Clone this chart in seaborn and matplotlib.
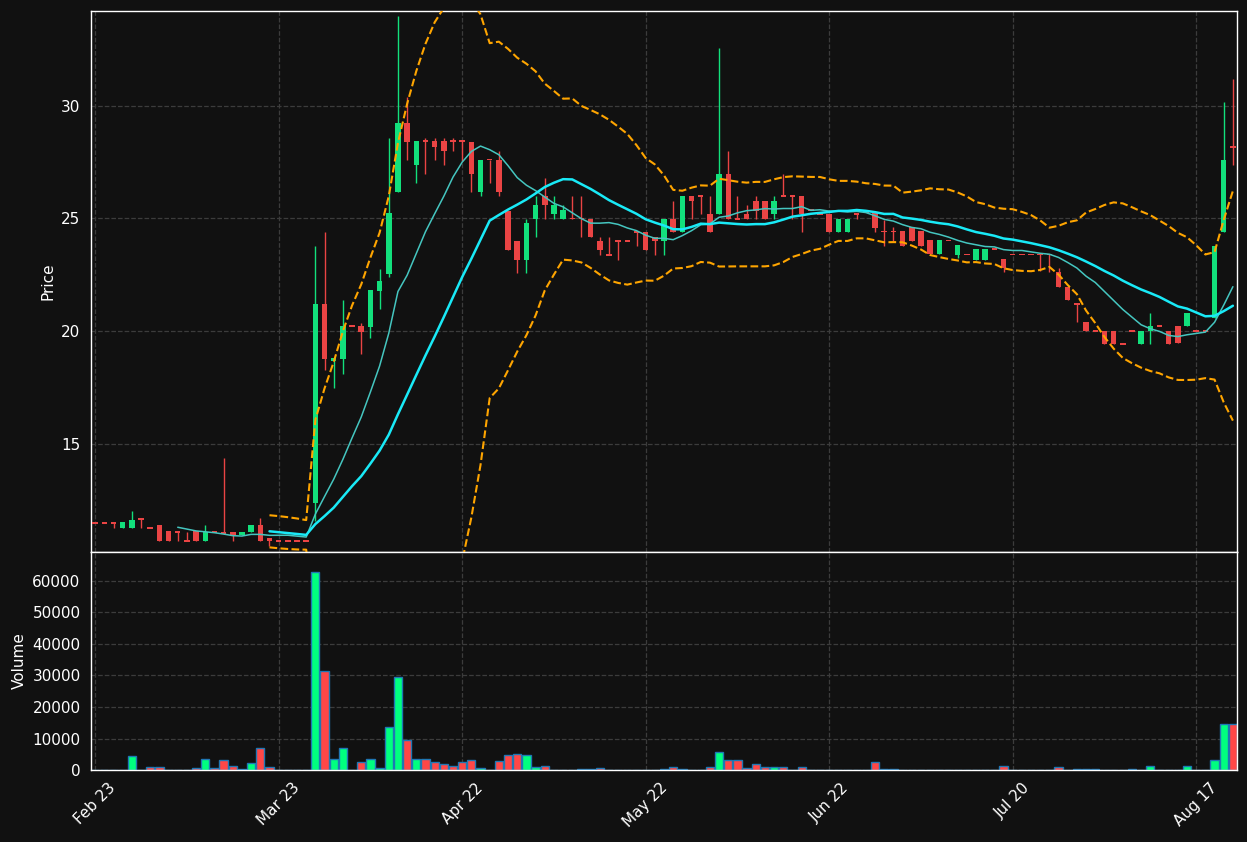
"""
Candlestick chart with SMA(10), SMA(20), Bollinger bands and a volume panel.
"""

import matplotlib
matplotlib.use("Agg")
import matplotlib.pyplot as plt
import numpy as np
import pandas as pd
import seaborn as sns

# ---- data ----
DATE_LABELS = ["Feb 23", "Mar 23", "Apr 22", "May 22", "Jun 22", "Jul 20", "Aug 17"]
TICK_STEP = 20

OPEN = [11.49, 11.49, 11.49, 11.25, 11.25, 11.69, 11.27, 11.42, 11.11, 11.10,
        10.68, 11.11, 10.68, 11.10, 11.10, 11.10, 10.97, 11.07, 11.42, 10.80,
        10.70, 10.70, 10.70, 10.70, 12.37, 21.18, 18.68, 18.76, 20.21, 20.21,
        20.18, 21.77, 22.55, 26.18, 29.22, 27.37, 28.43, 28.43, 28.43, 28.43,
        28.43, 28.39, 26.16, 27.61, 27.61, 25.34, 24.01, 23.14, 24.97, 25.98,
        25.18, 24.97, 24.99, 24.99, 24.99, 24.01, 23.39, 24.01, 24.01, 24.41,
        24.41, 24.18, 24.00, 24.99, 24.38, 26.00, 26.00, 25.21, 25.20, 26.98,
        24.97, 25.20, 25.79, 25.79, 25.20, 26.00, 26.00, 26.00, 25.36, 25.21,
        25.21, 24.38, 24.38, 25.21, 25.27, 25.27, 24.42, 24.42, 24.42, 24.60,
        24.42, 24.02, 23.40, 24.02, 23.37, 23.40, 23.17, 23.17, 23.63, 23.20,
        23.40, 23.40, 23.40, 23.40, 23.40, 22.61, 21.97, 21.19, 20.40, 20.00,
        20.00, 20.00, 19.41, 20.00, 19.41, 20.00, 20.22, 20.00, 20.22, 20.22,
        20.00, 20.00, 20.60, 24.40, 28.17]
HIGH = [11.49, 11.49, 11.49, 11.51, 12.00, 11.69, 11.27, 11.42, 11.11, 11.10,
        11.10, 11.11, 11.41, 11.10, 14.37, 11.10, 11.10, 11.42, 11.69, 10.80,
        10.70, 10.70, 10.70, 10.70, 23.79, 24.40, 18.80, 21.39, 20.21, 20.37,
        21.80, 22.77, 28.58, 33.99, 30.38, 28.43, 28.58, 28.58, 28.58, 28.58,
        28.45, 28.39, 27.61, 27.61, 28.00, 25.34, 24.01, 24.99, 25.98, 26.79,
        25.98, 25.60, 25.98, 25.98, 24.99, 24.18, 24.18, 24.01, 24.01, 24.41,
        24.41, 24.18, 24.99, 25.76, 26.00, 26.00, 26.00, 26.00, 32.56, 28.00,
        26.00, 25.60, 26.00, 25.79, 26.00, 26.98, 26.00, 26.00, 25.36, 25.21,
        25.21, 24.97, 24.97, 25.21, 25.27, 25.27, 24.94, 24.60, 24.42, 24.60,
        24.42, 24.02, 24.02, 24.02, 23.82, 23.40, 23.64, 23.64, 23.63, 23.20,
        23.40, 23.40, 23.40, 23.40, 23.40, 22.78, 21.97, 21.19, 20.40, 20.00,
        20.00, 20.00, 19.41, 20.00, 20.00, 20.80, 20.22, 20.00, 20.22, 20.80,
        20.00, 20.00, 23.78, 30.15, 31.18]
LOW = [11.49, 11.49, 11.27, 11.25, 11.25, 11.27, 11.27, 10.68, 10.68, 10.68,
       10.68, 10.68, 10.68, 11.10, 11.00, 10.70, 10.97, 11.07, 10.68, 10.45,
       10.70, 10.70, 10.70, 10.70, 11.57, 18.29, 17.46, 18.10, 20.21, 18.99,
       19.71, 21.00, 22.39, 26.18, 27.60, 26.59, 26.97, 27.60, 27.37, 28.00,
       27.55, 26.17, 25.98, 26.57, 25.98, 23.58, 22.58, 22.58, 24.18, 24.99,
       24.99, 24.97, 24.99, 24.18, 24.18, 23.36, 23.39, 23.14, 24.01, 23.76,
       23.58, 23.36, 23.36, 24.38, 24.38, 24.99, 25.20, 24.38, 25.20, 24.97,
       24.97, 24.97, 24.97, 24.97, 24.97, 26.00, 24.97, 24.38, 25.36, 25.21,
       24.38, 24.38, 24.38, 24.97, 25.27, 24.41, 23.79, 23.98, 23.79, 23.99,
       23.79, 23.40, 23.40, 24.02, 23.23, 23.40, 23.17, 23.17, 23.63, 22.60,
       23.40, 23.40, 23.40, 22.66, 22.60, 21.97, 21.40, 20.40, 20.00, 20.00,
       19.41, 19.41, 19.41, 20.00, 19.41, 19.41, 20.22, 19.41, 19.48, 20.22,
       20.00, 20.00, 20.60, 24.40, 27.38]
CLOSE = [11.49, 11.49, 11.49, 11.51, 11.60, 11.67, 11.27, 10.68, 10.68, 11.10,
         10.68, 10.68, 11.10, 11.10, 11.00, 10.96, 11.10, 11.42, 10.68, 10.68,
         10.70, 10.70, 10.70, 10.70, 21.18, 18.76, 18.79, 20.21, 20.21, 19.95,
         21.80, 22.20, 25.23, 29.22, 28.39, 28.43, 28.43, 28.17, 28.00, 28.43,
         28.43, 26.95, 27.61, 27.61, 26.16, 23.58, 23.14, 24.80, 25.60, 25.60,
         25.60, 25.39, 24.99, 24.99, 24.18, 23.58, 23.39, 24.01, 24.01, 24.41,
         23.58, 24.01, 24.99, 24.38, 26.00, 25.76, 26.00, 24.38, 26.98, 24.97,
         24.97, 24.97, 25.34, 24.97, 25.79, 26.00, 26.00, 25.20, 25.36, 25.21,
         24.38, 24.97, 24.97, 25.21, 25.27, 24.57, 24.42, 24.42, 23.79, 23.99,
         23.79, 23.40, 24.02, 24.02, 23.82, 23.40, 23.64, 23.64, 23.63, 22.78,
         23.40, 23.40, 23.40, 23.40, 23.40, 21.97, 21.40, 21.19, 20.00, 20.00,
         19.41, 19.41, 19.41, 20.00, 20.00, 20.22, 20.22, 19.41, 19.48, 20.80,
         20.00, 20.00, 23.78, 27.61, 28.17]
VOLUME = [0, 0, 0, 0, 4500, 0, 960, 960, 0, 0,
          0, 640, 3530, 640, 3200, 1280, 320, 2250, 7060, 1070,
          0, 0, 0, 0, 62900, 31460, 3530, 7060, 0, 2570,
          3530, 640, 13800, 29530, 9630, 3530, 3530, 2570, 1930, 1280,
          2570, 3200, 640, 100, 2890, 4800, 5140, 4800, 960, 1280,
          100, 0, 0, 320, 320, 640, 0, 0, 100, 0,
          0, 100, 320, 960, 320, 0, 100, 960, 5780, 3200,
          3200, 640, 1930, 960, 960, 960, 0, 960, 0, 0,
          100, 0, 0, 0, 0, 2570, 320, 320, 0, 0,
          100, 0, 0, 0, 0, 100, 100, 0, 0, 1280,
          0, 0, 0, 0, 0, 960, 0, 320, 320, 320,
          0, 0, 0, 320, 0, 1280, 0, 0, 0, 1280,
          0, 0, 3200, 14450, 14450]

BG = "#111111"
CANDLE_UP = "#12e07c"
CANDLE_DOWN = "#ea4444"
VOL_PALETTE = {"up": "#00ff7f", "down": "#ff4747"}
VOL_EDGE = "#1f77b4"
SMA_FAST = "#45c6c0"
SMA_SLOW = "#19eaf7"
BAND = "orange"


def build_frame():
    df = pd.DataFrame({"open": OPEN, "high": HIGH, "low": LOW,
                       "close": CLOSE, "volume": VOLUME})
    df["idx"] = np.arange(len(df))
    df["direction"] = np.where(df["close"] > df["open"], "up", "down")
    df["sma10"] = df["close"].rolling(10).mean()
    df["sma20"] = df["close"].rolling(20).mean()
    std20 = df["close"].rolling(20).std()
    df["bb_up"] = df["sma20"] + 2 * std20
    df["bb_low"] = df["sma20"] - 2 * std20
    return df


def draw_candles(ax, df):
    colors = np.where(df["direction"] == "up", CANDLE_UP, CANDLE_DOWN)
    ax.vlines(df["idx"], df["low"], df["high"], colors=colors, linewidth=1, zorder=2)
    body_low = np.minimum(df["open"], df["close"])
    body_h = np.abs(df["close"] - df["open"])
    # doji -> thin dash
    min_h = 0.08
    body_low = np.where(body_h < min_h, body_low - (min_h - body_h) / 2, body_low)
    body_h = np.maximum(body_h, min_h)
    ax.bar(df["idx"], body_h, bottom=body_low, width=0.6, color=colors,
           linewidth=0, zorder=3)


def style_axis(ax):
    ax.set_facecolor(BG)
    for sp in ax.spines.values():
        sp.set_color("white")
        sp.set_linewidth(1)
    ax.grid(True, color="#3c3c3c", linestyle="--", linewidth=0.9)
    ax.tick_params(colors="white", labelsize=11)


def main():
    df = build_frame()

    sns.set_theme(style="dark")
    plt.rcParams["font.family"] = ["DejaVu Sans"]

    fig = plt.figure(figsize=(12.47, 8.42), dpi=100, facecolor=BG)
    ax = fig.add_axes([0.073, 0.3444, 0.919, 0.6426])
    ax_vol = fig.add_axes([0.073, 0.0855, 0.919, 0.2589], sharex=ax)

    for a in (ax, ax_vol):
        style_axis(a)

    draw_candles(ax, df)
    sns.lineplot(data=df, x="idx", y="sma10", ax=ax, color=SMA_FAST, linewidth=1.1, zorder=4)
    sns.lineplot(data=df, x="idx", y="sma20", ax=ax, color=SMA_SLOW, linewidth=1.8, zorder=5)
    sns.lineplot(data=df, x="idx", y="bb_up", ax=ax, color=BAND, linewidth=1.5,
                 linestyle="--", zorder=6)
    sns.lineplot(data=df, x="idx", y="bb_low", ax=ax, color=BAND, linewidth=1.5,
                 linestyle="--", zorder=6)

    sns.barplot(data=df, x="idx", y="volume", hue="direction", palette=VOL_PALETTE,
                dodge=False, native_scale=True, width=0.9, saturation=1,
                edgecolor=VOL_EDGE, linewidth=1, errorbar=None, legend=False, ax=ax_vol)

    n = len(df)
    ticks = np.arange(0, n, TICK_STEP)
    ax.set_xlim(-0.45, n - 0.55)
    ax.set_ylim(10.2, 34.2)
    ax.set_yticks([15, 20, 25, 30])
    ax.set_xticks(ticks)
    ax.tick_params(axis="x", labelbottom=False, length=0)
    ax.tick_params(axis="y", length=4, color="white")
    ax.set_ylabel("Price", color="white", fontsize=11)
    ax.set_xlabel("")

    ax_vol.set_xticks(ticks)
    ax_vol.set_xticklabels(DATE_LABELS[:len(ticks)], rotation=45, ha="center")
    ax_vol.set_xlim(-0.45, n - 0.55)
    ax_vol.set_ylim(0, max(VOLUME) * 1.1)
    ax_vol.set_yticks(np.arange(0, 60001, 10000))
    ax_vol.set_yticklabels([str(v) for v in range(0, 60001, 10000)])
    ax_vol.tick_params(axis="both", length=4, color="white")
    ax_vol.set_ylabel("Volume", color="white", fontsize=11)
    ax_vol.set_xlabel("")

    fig.savefig("out.png", facecolor=BG)
    plt.close(fig)


if __name__ == "__main__":
    main()
